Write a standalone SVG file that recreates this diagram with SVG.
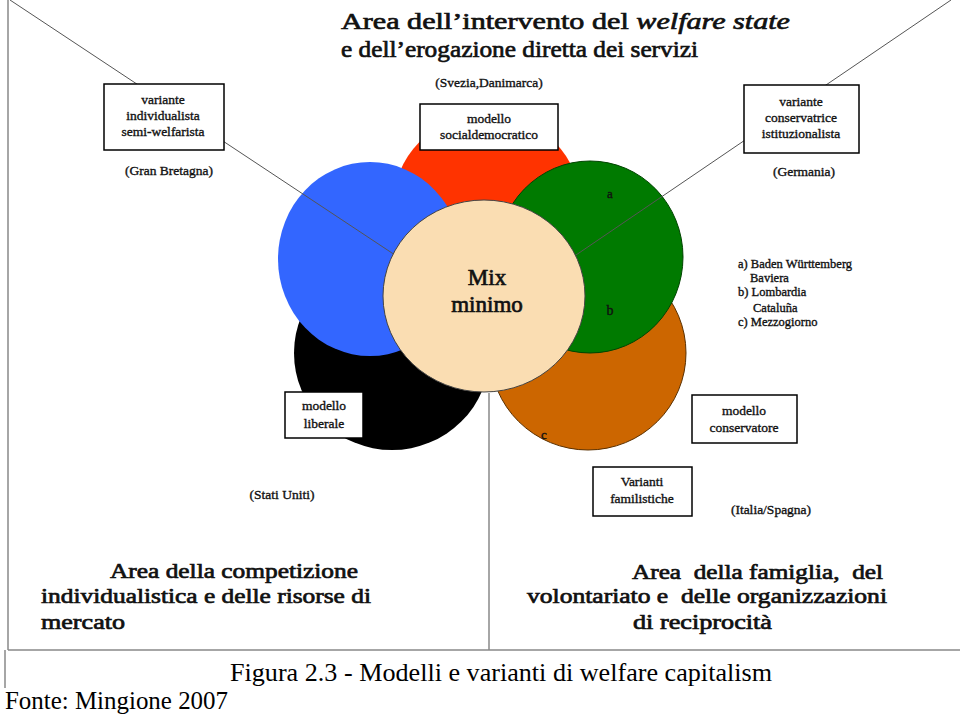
<svg xmlns="http://www.w3.org/2000/svg" width="960" height="714" viewBox="0 0 960 714">
<style>
text{font-family:'Liberation Serif',serif}
.s{fill:#111;stroke:#111;stroke-width:0.35}
.b{stroke-width:0.7}
.box{fill:#fff;stroke:#000;stroke-width:1.5}
.bt{font-size:13.5px;text-anchor:middle}
.lg{font-size:12.5px}
.ln{stroke:#555;stroke-width:1;fill:none}
.fr{stroke:#888;stroke-width:1.5;fill:none}
</style>
<rect width="960" height="714" fill="#fff"/>
<g id="frame">
<line class="fr" x1="8" y1="0" x2="8" y2="650"/>
<line class="fr" x1="8" y1="650" x2="960" y2="650"/>
<line class="fr" x1="5" y1="650" x2="5" y2="688" stroke-width="1"/>
<line class="fr" x1="489" y1="393" x2="489" y2="650"/>
</g>
<g id="circles">
<ellipse id="red" cx="487" cy="210" rx="95" ry="97" fill="#FF3300"/>
<ellipse id="black" cx="392" cy="353" rx="98" ry="97" fill="#000"/>
<ellipse id="orange" cx="588" cy="353" rx="98" ry="97" fill="#CC6600" stroke="#5a3000" stroke-width="1"/>
<ellipse id="blue" cx="370" cy="259" rx="92" ry="97" fill="#3366FF"/>
<ellipse id="green" cx="590" cy="257" rx="93" ry="96" fill="#007A00" stroke="#004400" stroke-width="1"/>
</g>
<g id="connectors">
<line class="ln" x1="10" y1="0" x2="395" y2="255"/>
<line class="ln" x1="951" y1="0" x2="576" y2="255"/>
</g>
<g id="mix">
<ellipse cx="484" cy="296" rx="101" ry="96" fill="#FADDB2" stroke="#444" stroke-width="1"/>
<text class="s b" x="487" y="285" font-size="23" text-anchor="middle">Mix</text>
<text class="s b" x="487" y="312" font-size="23" text-anchor="middle">minimo</text>
</g>
<g id="title">
<text class="s b" x="341" y="29" font-size="24" textLength="449" lengthAdjust="spacingAndGlyphs">Area dell’intervento del <tspan font-style="italic">welfare state</tspan></text>
<text class="s b" x="341" y="57" font-size="24" textLength="357" lengthAdjust="spacingAndGlyphs">e dell’erogazione diretta dei servizi</text>
<text class="s bt" x="489" y="87">(Svezia,Danimarca)</text>
</g>
<g id="box-semiwelfarista">
<rect class="box" x="104" y="84" width="120" height="66"/>
<text class="s bt" x="163" y="104">variante</text>
<text class="s bt" x="163" y="120">individualista</text>
<text class="s bt" x="163" y="136">semi-welfarista</text>
<text class="s bt" x="169" y="175">(Gran Bretagna)</text>
</g>
<g id="box-socialdemocratico">
<rect class="box" x="420" y="104" width="138" height="46"/>
<text class="s bt" x="489" y="123">modello</text>
<text class="s bt" x="489" y="139">socialdemocratico</text>
</g>
<g id="box-conservatrice">
<rect class="box" x="744" y="85" width="115" height="68"/>
<text class="s bt" x="801" y="106">variante</text>
<text class="s bt" x="801" y="122">conservatrice</text>
<text class="s bt" x="801" y="138">istituzionalista</text>
<text class="s bt" x="804" y="176">(Germania)</text>
</g>
<g id="legend">
<text class="s lg" x="738" y="268">a) Baden Württemberg</text>
<text class="s lg" x="750" y="282">Baviera</text>
<text class="s lg" x="738" y="296">b) Lombardia</text>
<text class="s lg" x="753" y="312">Cataluña</text>
<text class="s lg" x="738" y="326">c) Mezzogiorno</text>
</g>
<g id="letters">
<text class="s" x="610" y="198" font-size="13" text-anchor="middle">a</text>
<text class="s" x="610" y="315" font-size="14" text-anchor="middle">b</text>
<text class="s" x="544" y="439" font-size="13" text-anchor="middle">c</text>
</g>
<g id="box-liberale">
<rect class="box" x="285" y="392" width="78" height="46"/>
<text class="s bt" x="324" y="410">modello</text>
<text class="s bt" x="324" y="428">liberale</text>
<text class="s bt" x="282" y="499">(Stati Uniti)</text>
</g>
<g id="box-conservatore">
<rect class="box" x="692" y="395" width="105" height="48"/>
<text class="s bt" x="744" y="415">modello</text>
<text class="s bt" x="744" y="432">conservatore</text>
</g>
<g id="box-familistiche">
<rect class="box" x="593" y="467" width="99" height="49"/>
<text class="s bt" x="642" y="486">Varianti</text>
<text class="s bt" x="642" y="503">familistiche</text>
<text class="s bt" x="771" y="514">(Italia/Spagna)</text>
</g>
<g id="bottom-left">
<text class="s b" x="110" y="578" font-size="21" textLength="248" lengthAdjust="spacingAndGlyphs">Area della competizione</text>
<text class="s b" x="41" y="603" font-size="21" textLength="330" lengthAdjust="spacingAndGlyphs">individualistica e delle risorse di</text>
<text class="s b" x="41" y="629" font-size="21" textLength="84" lengthAdjust="spacingAndGlyphs">mercato</text>
</g>
<g id="bottom-right">
<text class="s b" x="632" y="579" font-size="21" textLength="251" lengthAdjust="spacingAndGlyphs" xml:space="preserve">Area  della famiglia,  del</text>
<text class="s b" x="527" y="603" font-size="21" textLength="360" lengthAdjust="spacingAndGlyphs" xml:space="preserve">volontariato e  delle organizzazioni</text>
<text class="s b" x="633" y="629" font-size="21" textLength="139" lengthAdjust="spacingAndGlyphs">di reciprocità</text>
</g>
<g id="caption">
<text x="230" y="681" font-size="26" fill="#000" textLength="542" lengthAdjust="spacingAndGlyphs">Figura 2.3 - Modelli e varianti di welfare capitalism</text>
<text x="5" y="709" font-size="26" fill="#000" textLength="223" lengthAdjust="spacingAndGlyphs">Fonte: Mingione 2007</text>
</g>
</svg>
